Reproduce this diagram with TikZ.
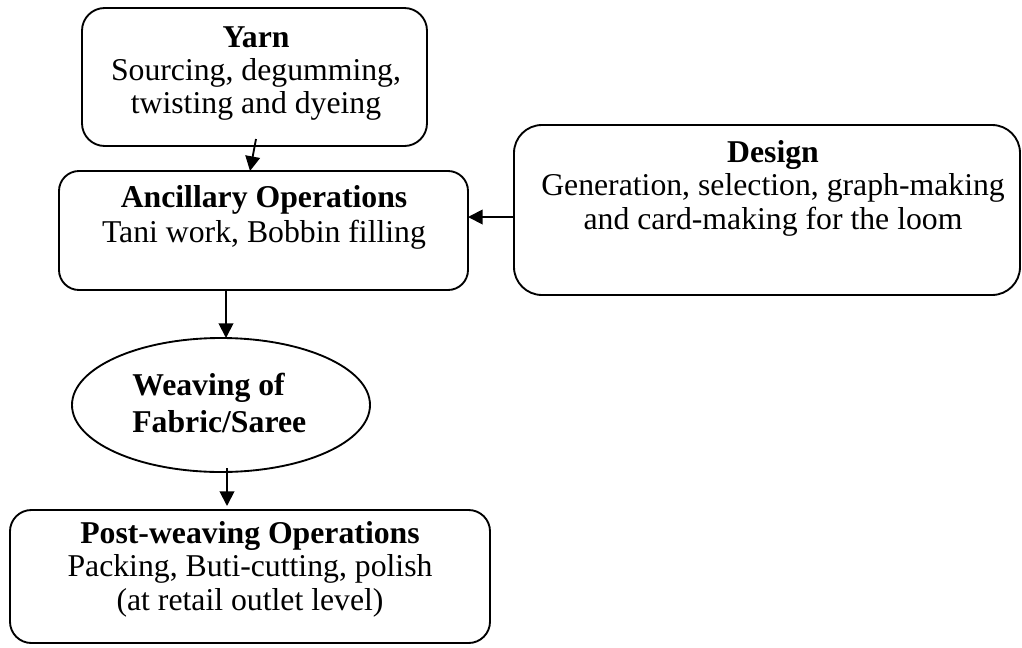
\documentclass[tikz,border=0pt]{standalone}
\usepackage{fontspec}
\setmainfont{Liberation Serif}
\usetikzlibrary{arrows.meta,shapes.geometric,calc}
\tikzset{
  box/.style={draw, line width=1.4pt, inner sep=0pt, outer sep=0pt, anchor=north west},
  oval/.style={draw, ellipse, line width=1.4pt, inner sep=0pt, outer sep=0pt},
  txt/.style={anchor=base, inner sep=0pt, font=\fontsize{23.8}{27}\selectfont},
  btxt/.style={txt, font=\fontsize{23.8}{27}\selectfont\bfseries},
  arr/.style={line width=1.4pt, -{Triangle[length=11pt,width=11pt]}}
}
\begin{document}
\begin{tikzpicture}[x=0.75pt,y=-0.75pt]
\useasboundingbox (0,0) rectangle (1022,647);
% boxes
\node[box, rounded corners=17pt, minimum width=258.75pt, minimum height=103.5pt] (yarn) at (82,8) {};
\node[box, rounded corners=15pt, minimum width=306.75pt, minimum height=89.25pt] (anc) at (59,171) {};
\node[box, rounded corners=21pt, minimum width=379.5pt, minimum height=127.5pt] (design) at (514,125) {};
\node[oval, minimum width=223.5pt, minimum height=100.5pt] (weave) at (221,405) {};
\node[box, rounded corners=16pt, minimum width=360pt, minimum height=99.75pt] (post) at (10,510) {};
% texts
\node[btxt] (yarn1) at (256,47) {Yarn};
\node[txt] (yarn2) at (256,80) {Sourcing, degumming,};
\node[txt] (yarn3) at (256,113) {twisting and dyeing};
\node[btxt] (anc1) at (264,207) {Ancillary Operations};
\node[txt] (anc2) at (264,242) {Tani work, Bobbin filling};
\node[btxt] (des1) at (773,162) {Design};
\node[txt] (des2) at (773,195) {Generation, selection, graph-making};
\node[txt] (des3) at (773,229) {and card-making for the loom};
\node[btxt, anchor=base west] (wv1) at (132,395) {Weaving of};
\node[btxt, anchor=base west] (wv2) at (132,432) {Fabric/Saree};
\node[btxt] (post1) at (250,543) {Post-weaving Operations};
\node[txt] (post2) at (250,576) {Packing, Buti-cutting, polish};
\node[txt] (post3) at (250,610) {(at retail outlet level)};
% connectors
\draw[arr] ([shift={(1.5,-7)}]yarn.south) -- ([shift={(-13.5,0)}]anc.north);
\draw[arr] ([shift={(0,7)}]design.west) -- ([shift={(0,7)}]design.west -| anc.east);
\draw[arr] ([shift={(-37.5,0)}]anc.south) -- ([shift={(-37.5,0)}]anc.south |- weave.north);
\draw[arr] ([shift={(6,-4)}]weave.south) -- ([shift={(6,-4)}]weave.south |- post.north);
\end{tikzpicture}
\end{document}
